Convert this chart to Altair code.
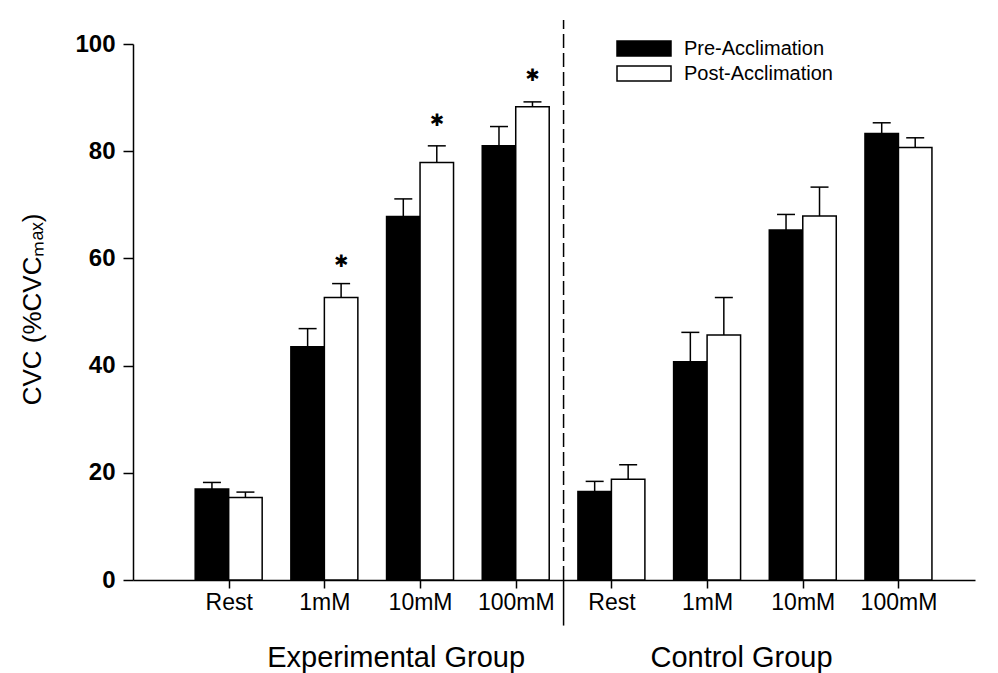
import altair as alt
import pandas as pd

# ---- data ----
categories = ["Rest", "1mM", "10mM", "100mM", "Rest", "1mM", "10mM", "100mM"]
series_names = ["Pre-Acclimation", "Post-Acclimation"]
pre_mean = [17.0, 43.5, 67.8, 81.0, 16.5, 40.7, 65.3, 83.3]
pre_err = [1.2, 3.4, 3.3, 3.6, 1.9, 5.5, 2.9, 2.0]
post_mean = [15.4, 52.7, 77.9, 88.3, 18.8, 45.7, 67.9, 80.7]
post_err = [1.0, 2.6, 3.1, 0.9, 2.7, 7.0, 5.4, 1.8]
sig_index = [1, 2, 3]
sig_y = [59.4, 85.7, 94.0]
group_names = ["Experimental Group", "Control Group"]
group_x = [1.75, 5.36]
divider_x = [3.5]
y_ticks = [0, 20, 40, 60, 80, 100]

FONT = "Liberation Sans"

rows = []
for i, c in enumerate(categories):
    rows.append(dict(idx=i, cat=c, series=series_names[0], mean=pre_mean[i], err=pre_err[i]))
    rows.append(dict(idx=i, cat=c, series=series_names[1], mean=post_mean[i], err=post_err[i]))
df = pd.DataFrame(rows)

sig_df = pd.DataFrame({"idx": sig_index, "y": sig_y})
grp_df = pd.DataFrame({"g": group_names, "gx": group_x})
div_df = pd.DataFrame({"x": divider_x})

BW = 0.35
xscale = alt.Scale(domain=[-1, 7.8], nice=False, zero=False)
yscale = alt.Scale(domain=[0, 100], nice=False)

label_expr = "[" + ",".join(f"'{c}'" for c in categories) + "][datum.value]"
xaxis = alt.Axis(
    values=list(range(len(categories))), labelExpr=label_expr, title=None, grid=False,
    tickSize=8, tickColor="black", tickWidth=1.5, domainColor="black", domainWidth=1.5,
    labelFontSize=23, labelColor="black", labelFont=FONT, labelPadding=3,
)
yaxis = alt.Axis(
    values=y_ticks, title="CVC (%CVCₘₐₓ)", grid=False,
    tickSize=10, tickColor="black", tickWidth=1.5, domainColor="black", domainWidth=1.5,
    labelFontSize=24, labelFontWeight="bold", labelColor="black", labelFont=FONT, labelPadding=8,
    titleFontSize=26, titleFontWeight="normal", titleColor="black", titleFont=FONT,
    titleX=-101, titleY=265, titleAngle=-90, titleAlign="center", titleBaseline="middle",
)

base = alt.Chart(df).transform_calculate(
    x0=f"datum.series == '{series_names[0]}' ? datum.idx - {BW} : datum.idx",
    x1=f"datum.series == '{series_names[0]}' ? datum.idx : datum.idx + {BW}",
    xc=f"datum.series == '{series_names[0]}' ? datum.idx - {BW / 2} : datum.idx + {BW / 2}",
    top="datum.mean + datum.err",
)

bars = base.mark_bar(stroke="black", strokeWidth=1.5, opacity=1).encode(
    x=alt.X("x0:Q", scale=xscale, axis=xaxis),
    x2="x1:Q",
    y=alt.Y("mean:Q", scale=yscale, axis=yaxis),
    y2=alt.datum(0),
    color=alt.Color(
        "series:N",
        scale=alt.Scale(domain=series_names, range=["black", "white"]),
        sort=series_names,
        legend=alt.Legend(
            title=None, orient="none", legendX=498, legendY=-8.5, padding=0,
            symbolType="M-2.25,-0.625H2.25V0.625H-2.25Z", symbolSize=576,
            symbolStrokeColor="black", symbolStrokeWidth=1.5, symbolOpacity=1,
            labelFontSize=20, labelFont=FONT, labelColor="black", labelOffset=27,
            labelLimit=400, rowPadding=1,
        ),
    ),
)

err_line = base.mark_rule(color="black", strokeWidth=1.5).encode(
    x="xc:Q", y="mean:Q", y2="top:Q"
)
err_cap = base.mark_tick(orient="horizontal", size=18, thickness=1.5, color="black", opacity=1).encode(
    x="xc:Q", y="top:Q"
)

stars = alt.Chart(sig_df).transform_calculate(
    xs=f"datum.idx + {BW / 2}"
).mark_text(text="✱", fontSize=17, color="black", font="DejaVu Sans", baseline="middle", align="center").encode(
    x=alt.X("xs:Q", scale=xscale), y=alt.Y("y:Q", scale=yscale)
)

div_dash = alt.Chart(div_df).mark_rule(color="black", strokeWidth=1.5, strokeDash=[14, 5]).encode(
    x=alt.X("x:Q", scale=xscale), y=alt.datum(0), y2=alt.datum(104.5)
)
div_solid = alt.Chart(div_df).mark_rule(color="black", strokeWidth=1.5).encode(
    x=alt.X("x:Q", scale=xscale), y=alt.datum(0), y2=alt.datum(-8.5)
)

grp_text = alt.Chart(grp_df).mark_text(fontSize=29, font=FONT, color="black", baseline="middle", align="center").encode(
    x=alt.X("gx:Q", scale=xscale), y=alt.value(614), text="g:N"
)

chart = alt.layer(bars, err_line, err_cap, stars, div_dash, div_solid, grp_text).properties(
    width=842, height=536,
    autosize=alt.AutoSizeParams(type="none"),
    padding={"left": 125, "top": 36, "right": 15, "bottom": 93},
    background="white",
).configure_view(stroke=None)

chart.save("out.html", embed_options={"renderer": "svg", "actions": False})
